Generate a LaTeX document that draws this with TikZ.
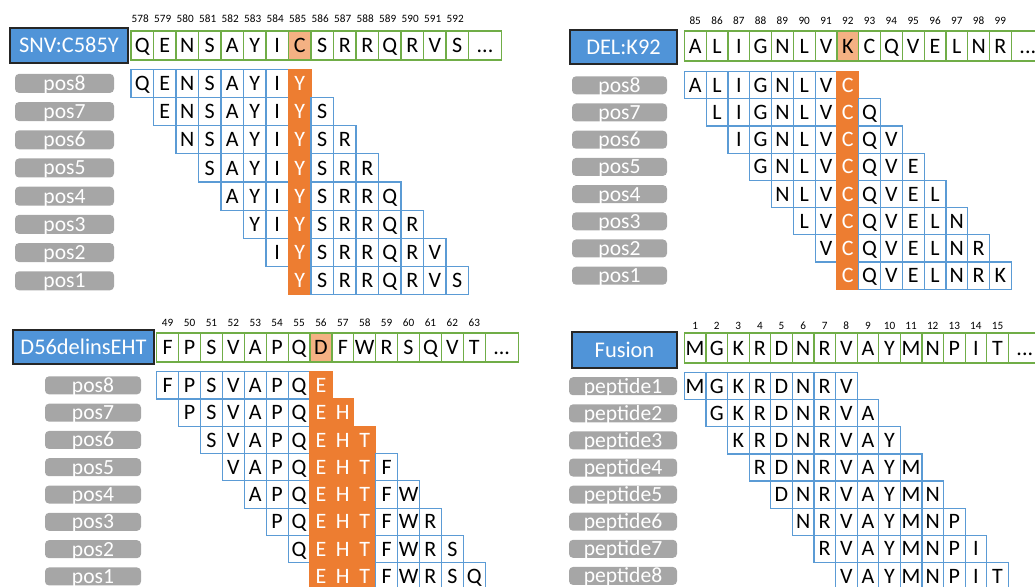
\documentclass[tikz,border=0pt]{standalone}
\usepackage{fontspec}
\setmainfont{Carlito}
\definecolor{refgreen}{HTML}{70AD47}
\definecolor{pepblue}{HTML}{5B9BD5}
\definecolor{mutorange}{HTML}{ED7D31}
\definecolor{refhl}{HTML}{F4B183}
\definecolor{labblue}{HTML}{5094D8}
\definecolor{labgrey}{HTML}{A6A6A6}
\tikzset{
  reflabel/.style={draw=black!85, fill=labblue, text=white, line width=0.8pt, inner sep=0pt,
    font=\fontsize{11.2}{13}\selectfont, text height=7.3pt, text depth=0pt},
  poslabel/.style={fill=labgrey, text=white, rounded corners=2pt, inner sep=0pt,
    font=\fontsize{10.8}{12}\selectfont, text height=7pt, text depth=0pt},
  refcell/.style={draw=refgreen, line width=0.6pt, fill=white, inner sep=0pt,
    minimum width=\cw*0.5pt, minimum height=\ch*0.5pt,
    font=\fontsize{11}{12}\selectfont, text height=7.1pt, text depth=0pt},
  pepcell/.style={refcell, draw=pepblue, minimum height=\pp*0.5pt},
  posnum/.style={inner sep=0pt, font=\fontsize{5.6}{6}\selectfont},
}
\begin{document}
\begin{tikzpicture}[x=0.5pt,y=-0.5pt]
  \useasboundingbox (0,0) rectangle (1035,587);

  % SNV
  \begin{scope}[shift={(131,31)}]
    \def\cw{22.5}\def\ch{29}\def\pt{38.3}\def\pp{28.2}
    \node[reflabel, minimum width=59pt, minimum height=17.5pt] (snv) at (-62,14.5) {SNV:C585Y};
    \foreach \a [count=\c from 0] in {Q,E,N,S,A,Y,I,C,S,R,R,Q,R,V,S}{
      \pgfmathtruncatemacro\n{\c+578}
      \ifnum\c=7 \def\fc{refhl}\else\def\fc{white}\fi
      \node[refcell, fill=\fc] (snv-r\c) at ({(\c+0.5)*\cw},{\ch/2}) {\a};
      \node[posnum] (snv-n\c) at ({(\c+0.5)*\cw-2},-12) {\n};
    }
    \node[refcell, minimum width=16.5pt] (snv-more) at ({15*\cw+16.5},{\ch/2}) {...};
    \foreach \lab [count=\r from 0] in {pos8,pos7,pos6,pos5,pos4,pos3,pos2,pos1}{
      \node[poslabel, minimum width=49.5pt, minimum height=9.5pt] (snv-l\r) at (-66.5,{\pt+(\r+0.5)*\pp}) {\lab};
      \foreach \a [count=\c from 0] in {Q,E,N,S,A,Y,I,Y,S,R,R,Q,R,V,S}{
        \ifnum\c<\r\relax\else\ifnum\c>\numexpr\r+7\relax\else
          \ifnum\c=7 \def\dc{mutorange}\def\fc{mutorange}\def\tc{white}%
          \else\def\dc{pepblue}\def\fc{white}\def\tc{black}\fi
          \node[pepcell, draw=\dc, fill=\fc, text=\tc] (snv-p\r-\c) at ({(\c+0.5)*\cw},{\pt+(\r+0.5)*\pp}) {\a};
        \fi\fi
      }
    }
  \end{scope}

  % DEL
  \begin{scope}[shift={(684.3,31)}]
    \def\cw{21.8}\def\ch{30}\def\pt{40.7}\def\pp{27.2}
    \node[reflabel, minimum width=53.5pt, minimum height=17pt] (del) at (-60.8,16) {DEL:K92};
    \foreach \a [count=\c from 0] in {A,L,I,G,N,L,V,K,C,Q,V,E,L,N,R}{
      \pgfmathtruncatemacro\n{\c+85}
      \ifnum\c=7 \def\fc{refhl}\else\def\fc{white}\fi
      \node[refcell, fill=\fc] (del-r\c) at ({(\c+0.5)*\cw},{\ch/2}) {\a};
      \node[posnum] (del-n\c) at ({(\c+0.5)*\cw},-10) {\n};
    }
    \node[refcell, minimum width=16.5pt] (del-more) at ({15*\cw+16.5},{\ch/2}) {...};
    \foreach \lab [count=\r from 0] in {pos8,pos7,pos6,pos5,pos4,pos3,pos2,pos1}{
      \node[poslabel, minimum width=47.5pt, minimum height=9pt] (del-l\r) at (-64.8,{\pt+(\r+0.5)*\pp}) {\lab};
      \foreach \a [count=\c from 0] in {A,L,I,G,N,L,V,C,Q,V,E,L,N,R,K}{
        \ifnum\c<\r\relax\else\ifnum\c>\numexpr\r+7\relax\else
          \ifnum\c=7 \def\dc{mutorange}\def\fc{mutorange}\def\tc{white}%
          \else\def\dc{pepblue}\def\fc{white}\def\tc{black}\fi
          \node[pepcell, draw=\dc, fill=\fc, text=\tc] (del-p\r-\c) at ({(\c+0.5)*\cw},{\pt+(\r+0.5)*\pp}) {\a};
        \fi\fi
      }
    }
  \end{scope}

  % delins
  \begin{scope}[shift={(156.7,333)}]
    \def\cw{21.9}\def\ch{29}\def\pt{38.7}\def\pp{27.3}
    \node[reflabel, minimum width=70.5pt, minimum height=17pt] (dins) at (-73.2,14) {D56delinsEHT};
    \foreach \a [count=\c from 0] in {F,P,S,V,A,P,Q,D,F,W,R,S,Q,V,T}{
      \pgfmathtruncatemacro\n{\c+49}
      \ifnum\c=7 \def\fc{refhl}\else\def\fc{white}\fi
      \node[refcell, fill=\fc] (dins-r\c) at ({(\c+0.5)*\cw},{\ch/2}) {\a};
      \node[posnum] (dins-n\c) at ({(\c+0.5)*\cw},-10) {\n};
    }
    \node[refcell, minimum width=16.5pt] (dins-more) at ({15*\cw+16.5},{\ch/2}) {...};
    \foreach \lab [count=\r from 0] in {pos8,pos7,pos6,pos5,pos4,pos3,pos2,pos1}{
      \node[poslabel, minimum width=48pt, minimum height=9pt] (dins-l\r) at (-63.7,{\pt+(\r+0.5)*\pp}) {\lab};
      \foreach \a [count=\c from 0] in {F,P,S,V,A,P,Q,E,H,T,F,W,R,S,Q}{
        \ifnum\c<\r\relax\else\ifnum\c>\numexpr\r+7\relax\else
          \ifnum\c>6 \ifnum\c<10 \def\dc{mutorange}\def\fc{mutorange}\def\tc{white}%
            \else\def\dc{pepblue}\def\fc{white}\def\tc{black}\fi
          \else\def\dc{pepblue}\def\fc{white}\def\tc{black}\fi
          \node[pepcell, draw=\dc, fill=\fc, text=\tc] (dins-p\r-\c) at ({(\c+0.5)*\cw},{\pt+(\r+0.5)*\pp}) {\a};
        \fi\fi
      }
    }
  \end{scope}

  % fusion
  \begin{scope}[shift={(684.3,333)}]
    \def\cw{21.6}\def\ch{30}\def\pt{39.7}\def\pp{27.1}
    \node[reflabel, minimum width=52.5pt, minimum height=18pt] (fus) at (-59.8,17) {Fusion};
    \foreach \a [count=\c from 0] in {M,G,K,R,D,N,R,V,A,Y,M,N,P,I,T}{
      \pgfmathtruncatemacro\n{\c+1}
      \node[refcell] (fus-r\c) at ({(\c+0.5)*\cw},{\ch/2}) {\a};
      \node[posnum] (fus-n\c) at ({(\c+0.5)*\cw},-7) {\n};
    }
    \node[refcell, minimum width=16.5pt] (fus-more) at ({15*\cw+16.5},{\ch/2}) {...};
    \foreach \r in {0,...,7}{
      \pgfmathtruncatemacro\k{\r+1}
      \node[poslabel, minimum width=54pt, minimum height=9pt] (fus-l\r) at (-61.3,{\pt+(\r+0.5)*\pp}) {peptide\k};
      \foreach \a [count=\c from 0] in {M,G,K,R,D,N,R,V,A,Y,M,N,P,I,T}{
        \ifnum\c<\r\relax\else\ifnum\c>\numexpr\r+7\relax\else
          \node[pepcell] (fus-p\r-\c) at ({(\c+0.5)*\cw},{\pt+(\r+0.5)*\pp}) {\a};
        \fi\fi
      }
    }
  \end{scope}
\end{tikzpicture}
\end{document}
